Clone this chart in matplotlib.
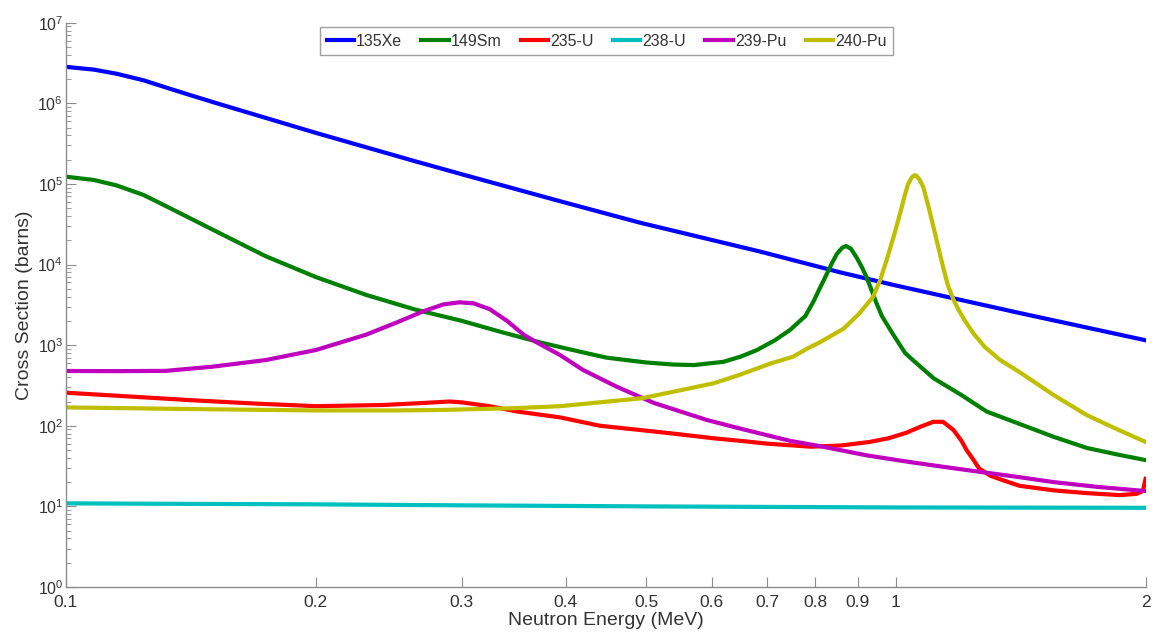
import matplotlib
matplotlib.use('Agg')
import matplotlib.pyplot as plt
from matplotlib.ticker import LogLocator, NullLocator, FixedLocator, FixedFormatter

plt.rcParams['font.family'] = ['Liberation Sans', 'DejaVu Sans']
plt.rcParams['mathtext.fontset'] = 'custom'
plt.rcParams['mathtext.rm'] = 'Liberation Sans'
plt.rcParams['mathtext.it'] = 'Liberation Sans:italic'

# cross sections (barns), energy in MeV
xe_e = [0.1, 0.108, 0.115, 0.124, 0.132, 0.142, 0.152, 0.174, 0.2, 0.23, 0.264, 0.303,
        0.394, 0.492, 0.686, 0.857, 1.0, 1.411, 2.0]
xe_s = [2.83e6, 2.62e6, 2.33e6, 1.93e6, 1.57e6, 1.24e6, 1.0e6, 6.6e5, 4.3e5, 2.85e5, 1.9e5, 1.28e5,
        6.1e4, 3.3e4, 1.45e4, 8.0e3, 5.5e3, 2.5e3, 1.15e3]

sm_e = [0.1, 0.108, 0.115, 0.124, 0.132, 0.152, 0.174, 0.2, 0.23, 0.264, 0.3, 0.335,
        0.373, 0.41, 0.448, 0.5, 0.539, 0.571, 0.62, 0.65, 0.68, 0.715, 0.746, 0.778,
        0.796, 0.81, 0.825, 0.838, 0.849, 0.862, 0.871, 0.883, 0.897, 0.91, 0.922,
        0.935, 0.948, 0.962, 0.993, 1.026, 1.049, 1.11, 1.2, 1.287, 1.411, 1.549,
        1.7, 1.85, 2.0]
sm_s = [1.23e5, 1.12e5, 9.6e4, 7.3e4, 5.3e4, 2.55e4, 1.27e4, 7.0e3, 4.2e3, 2.75e3, 2.0e3,
        1.45e3, 1.08e3, 860, 700, 610, 575, 566, 622, 720, 869, 1.15e3, 1.55e3, 2.3e3,
        3.5e3, 5.1e3, 7.5e3, 1.05e4, 1.35e4, 1.62e4, 1.7e4, 1.57e4, 1.22e4, 9.3e3, 7.0e3,
        4.8e3, 3.3e3, 2.3e3, 1.35e3, 800, 650, 390, 240, 150, 105, 73,
        53, 44, 37.5]

u235_e = [0.1, 0.12, 0.141, 0.17, 0.2, 0.241, 0.265, 0.29, 0.3, 0.324, 0.35, 0.394,
          0.44, 0.495, 0.539, 0.603, 0.65, 0.7, 0.79, 0.86, 0.93, 0.98, 1.03, 1.07,
          1.11, 1.14, 1.173, 1.2, 1.217, 1.24, 1.26, 1.3, 1.348, 1.41, 1.55, 1.7,
          1.86, 1.95, 1.985, 2.0]
u235_s = [257, 230, 208, 188, 175, 181, 190, 200, 195, 175, 150, 127,
          100, 88, 80, 70, 65, 60, 55, 57, 63, 70, 82, 97,
          112, 112, 89, 65, 50, 38, 29.6, 24, 21, 18, 15.8, 14.6,
          13.8, 14.3, 15.5, 22]

u238_e = [0.1, 0.2, 0.3, 0.5, 0.7, 1.0, 1.4, 2.0]
u238_s = [10.9, 10.6, 10.3, 10.0, 9.85, 9.7, 9.65, 9.6]

pu239_e = [0.1, 0.115, 0.132, 0.15, 0.174, 0.2, 0.23, 0.25, 0.27, 0.285, 0.298, 0.31,
           0.324, 0.34, 0.356, 0.367, 0.394, 0.42, 0.461, 0.511, 0.592, 0.65, 0.746,
           0.817, 0.922, 1.03, 1.14, 1.274, 1.411, 1.55, 1.746, 2.0]
pu239_s = [478, 476, 480, 540, 653, 870, 1.35e3, 1.9e3, 2.65e3, 3.2e3, 3.4e3, 3.3e3,
           2.8e3, 2.0e3, 1.35e3, 1.12e3, 753, 491, 305, 192, 118, 92, 65,
           55, 43, 36, 31, 26.5, 23, 20, 17.5, 15.5]

pu240_e = [0.1, 0.15, 0.2, 0.25, 0.282, 0.345, 0.394, 0.495, 0.603, 0.649, 0.707,
           0.752, 0.781, 0.812, 0.865, 0.903, 0.939, 0.958, 0.975, 0.995, 1.012,
           1.025, 1.035, 1.045, 1.052, 1.058, 1.067, 1.079, 1.095, 1.11, 1.125, 1.14,
           1.155, 1.173, 1.19, 1.21, 1.24, 1.28, 1.336, 1.411, 1.55, 1.7, 1.85, 2.0]
pu240_s = [169, 160, 155, 155, 157, 165, 175, 220, 336, 430, 594,
           720, 900, 1.1e3, 1.6e3, 2.45e3, 3.98e3, 6.5e3, 1.14e4, 2.3e4, 4.3e4,
           7.2e4, 1.0e5, 1.2e5, 1.28e5, 1.27e5, 1.15e5, 9.2e4, 5.2e4, 2.94e4, 1.65e4, 9.4e3,
           5.6e3, 3.7e3, 2.75e3, 2.05e3, 1.4e3, 950, 653, 460, 240, 135, 90, 63]

labels = ['135Xe', '149Sm', '235-U', '238-U', '239-Pu', '240-Pu']
colors = ['#0000ff', '#008000', '#ff0000', '#00bfbf', '#bf00bf', '#bfbf00']

xticks = [0.1, 0.2, 0.3, 0.4, 0.5, 0.6, 0.7, 0.8, 0.9, 1, 2]
xticklabels = ['0.1', '0.2', '0.3', '0.4', '0.5', '0.6', '0.7', '0.8', '0.9', '1', '2']

fig = plt.figure(figsize=(11.61, 6.34), dpi=100)
ax = fig.add_axes([66 / 1161, 47 / 634, 1079.6 / 1161, 564.3 / 634])

series = [(xe_e, xe_s), (sm_e, sm_s), (u235_e, u235_s),
          (u238_e, u238_s), (pu239_e, pu239_s), (pu240_e, pu240_s)]
for (e, s), lab, c in zip(series, labels, colors):
    ax.plot(e, s, color=c, lw=3, label=lab, solid_joinstyle='round')

ax.set_xscale('log')
ax.set_yscale('log')
ax.set_xlim(0.1, 2)
ax.set_ylim(1, 1e7)

ax.xaxis.set_major_locator(FixedLocator(xticks))
ax.xaxis.set_major_formatter(FixedFormatter(xticklabels))
ax.xaxis.set_minor_locator(NullLocator())
ax.yaxis.set_major_locator(LogLocator(base=10, numticks=10))
ax.yaxis.set_minor_locator(LogLocator(base=10, subs=range(2, 10), numticks=100))

for side in ['top', 'right']:
    ax.spines[side].set_visible(False)
for side in ['left', 'bottom']:
    ax.spines[side].set_color('#8c8c8c')
    ax.spines[side].set_linewidth(1)

ax.tick_params(which='both', direction='in', color='#8c8c8c', labelcolor='#333333')
ax.tick_params(which='major', length=7.5, width=0.8)
ax.tick_params(which='minor', length=3.5, width=0.6)
ax.tick_params(axis='x', labelsize=12.5, pad=6)
ax.tick_params(axis='y', labelsize=11.5, pad=2)

ax.set_xlabel('Neutron Energy (MeV)', fontsize=14, color='#333333')
ax.set_ylabel('Cross Section (barns)', fontsize=14, color='#333333')
ax.xaxis.set_label_coords(0.5, -0.045)
ax.yaxis.set_label_coords(-0.031, 0.5)

leg = ax.legend(loc='upper center', bbox_to_anchor=(0.5007, 0.992), ncol=6,
                fontsize=11.5, handlelength=1.7, handletextpad=0.15,
                columnspacing=1.2, borderpad=0.4, borderaxespad=0,
                fancybox=False, framealpha=1, edgecolor='#a0a0a0')
leg.get_frame().set_linewidth(1)
for t in leg.get_texts():
    t.set_color('#333333')

fig.savefig('out.png', dpi=100)
